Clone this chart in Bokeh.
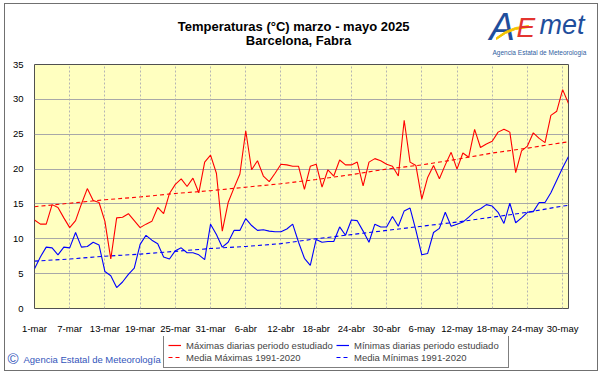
import pandas as pd
from bokeh.plotting import figure
from bokeh.layouts import column
from bokeh.models import (Range1d, FixedTicker, Label, Legend, LegendItem,
                          PolyAnnotation)
from bokeh.embed import file_html
from bokeh.resources import INLINE

# ---------------- data ----------------
dates = pd.date_range("2025-03-01", "2025-05-31")
day_idx = list(range(len(dates)))

tmax = [12.7, 12.1, 12.1, 14.9, 14.5, 13.0, 11.6, 12.6, 15.0, 17.2,
        15.5, 15.2, 12.5, 7.1, 13.0, 13.1, 13.6, 12.6, 11.6, 12.1,
        12.5, 14.5, 13.6, 16.5, 17.8, 18.6, 17.5, 18.7, 16.6, 21.0,
        22.0, 19.4, 11.1, 15.2, 17.3, 19.3, 25.5, 19.9, 21.2, 19.0,
        18.2, 19.4, 20.7, 20.6, 20.4, 20.4, 17.1, 20.4, 20.7, 17.4,
        19.9, 19.0, 21.3, 20.6, 20.6, 21.0, 17.6, 21.0, 21.5, 21.2,
        20.7, 20.4, 19.0, 27.0, 21.0, 20.5, 15.7, 18.8, 20.5, 18.6,
        20.6, 22.4, 20.0, 22.3, 21.7, 25.7, 23.1, 23.6, 24.0, 25.3,
        25.7, 25.3, 19.5, 22.6, 23.3, 25.2, 24.4, 23.8, 27.7, 28.3,
        31.4, 29.4]

tmin = [5.7, 7.4, 8.8, 8.7, 7.7, 8.8, 8.7, 10.9, 8.8, 8.9,
        9.5, 9.1, 5.3, 4.7, 3.0, 3.8, 4.9, 5.8, 9.2, 10.5,
        9.8, 9.3, 7.4, 7.1, 8.3, 8.7, 8.0, 8.0, 7.7, 7.0,
        12.1, 10.6, 8.8, 9.5, 11.2, 11.2, 12.9, 11.9, 11.2, 11.3,
        11.1, 11.0, 11.0, 11.4, 12.1, 9.5, 7.2, 6.2, 9.9, 9.5,
        9.6, 9.6, 11.7, 10.5, 12.7, 12.6, 11.1, 9.5, 12.1, 11.7,
        11.7, 13.2, 11.8, 14.0, 14.4, 11.2, 7.7, 7.9, 10.9, 11.5,
        13.8, 11.8, 12.1, 12.4, 13.1, 13.9, 14.3, 14.9, 14.7, 13.8,
        12.2, 15.1, 12.3, 13.0, 13.8, 13.9, 15.2, 15.2, 16.6, 18.4,
        20.2, 21.8]

# 1991-2020 climatological means, read at the tick dates (+ 31-may)
mean_idx = [0, 6, 12, 18, 24, 30, 36, 42, 48, 54, 60, 66, 72, 78, 84, 90, 91]
mean_max = [14.6, 15.1, 15.6, 16.0, 16.5, 16.9, 17.4, 17.9, 18.5, 19.2,
            20.0, 20.6, 21.4, 22.3, 23.0, 23.8, 23.9]
mean_min = [6.8, 7.1, 7.5, 7.8, 8.2, 8.6, 8.9, 9.3, 10.0, 10.6,
            11.2, 11.8, 12.4, 13.1, 13.8, 14.7, 14.8]

tick_idx = [0, 6, 12, 18, 24, 30, 36, 42, 48, 54, 60, 66, 72, 78, 84, 90]
tick_labels = ["1-mar", "7-mar", "13-mar", "19-mar", "25-mar", "31-mar",
               "6-abr", "12-abr", "18-abr", "24-abr", "30-abr", "6-may",
               "12-may", "18-may", "24-may", "30-may"]
y_ticks = [0, 5, 10, 15, 20, 25, 30, 35]

title1 = "Temperaturas (°C) marzo  - mayo 2025"
title2 = "Barcelona, Fabra"
legend_labels = ["Máximas diarias periodo estudiado",
                 "Mínimas diarias periodo estudiado",
                 "Media Máximas 1991-2020",
                 "Media Mínimas 1991-2020"]
credit = "Agencia Estatal de Meteorología"

SANS = "Liberation Sans"
W = 592
RED, BLUE = "#ff0000", "#0000ff"


def blank(height):
    f = figure(width=W, height=height, output_backend="svg", toolbar_location=None,
               x_range=Range1d(0, W), y_range=Range1d(0, height),
               x_axis_type=None, y_axis_type=None,
               min_border=0, outline_line_color=None, frame_align=False,
               background_fill_color="white", border_fill_color="white")
    f.grid.visible = False
    return f


# ---------------- header (titles + logo) ----------------
head = blank(56)
head.add_layout(Label(x=290, y=27, text=title1, text_align="center",
                      text_font=SANS, text_font_size="13px",
                      text_font_style="bold", text_color="#000000"))
head.add_layout(Label(x=293, y=13, text=title2, text_align="center",
                      text_font=SANS, text_font_size="13px",
                      text_font_style="bold", text_color="#000000"))
head.add_layout(Label(x=484, y=13, text="A", text_font=SANS, text_font_size="38px",
                      text_font_style="italic", text_color="#1f4e9c"))
head.add_layout(PolyAnnotation(xs=[491, 500, 510, 523, 523, 510, 500, 491],
                               ys=[23, 29, 33, 35, 33, 31, 27, 21],
                               fill_color="#f5c400", fill_alpha=1,
                               line_color="#f5c400", line_alpha=1))
head.add_layout(Label(x=511, y=18, text="E", text_font=SANS, text_font_size="28px",
                      text_font_style="italic", text_color="#e3342f"))
head.add_layout(Label(x=534, y=21, text="met", text_font=SANS, text_font_size="27px",
                      text_font_style="italic", text_color="#1f4e9c"))
head.add_layout(Label(x=487, y=5, text=credit, text_font=SANS, text_font_size="6.5px",
                      text_color="#3060a0"))

# ---------------- main chart ----------------
p = figure(width=W, height=276, output_backend="svg", toolbar_location=None,
           x_range=Range1d(0, 91), y_range=Range1d(0, 35), frame_align=False,
           min_border_left=29, min_border_right=29,
           min_border_top=4, min_border_bottom=26,
           background_fill_color="#ffffc0", border_fill_color="white",
           outline_line_color="#505050", outline_line_width=1)

p.ygrid.grid_line_color = "#a8a8a8"
p.xgrid.grid_line_color = "#b4b4b4"
p.xgrid.grid_line_dash = "2 2"

p.xaxis.ticker = FixedTicker(ticks=tick_idx)
p.xaxis.major_label_overrides = {i: t for i, t in zip(tick_idx, tick_labels)}
p.yaxis.ticker = FixedTicker(ticks=y_ticks)
for ax in (p.xaxis, p.yaxis):
    ax.axis_line_color = None
    ax.major_tick_line_color = None
    ax.minor_tick_line_color = None
    ax.major_label_text_font = SANS
    ax.major_label_text_font_size = "9.5px"
    ax.major_label_text_color = "#000000"
p.xaxis.major_label_standoff = 8
p.yaxis.major_label_standoff = 5

p.line(mean_idx, mean_max, line_color=RED, line_width=1.1, line_dash="4 3")
p.line(mean_idx, mean_min, line_color=BLUE, line_width=1.1, line_dash="4 3")
p.line(day_idx, tmax, line_color=RED, line_width=1.1)
p.line(day_idx, tmin, line_color=BLUE, line_width=1.1)

# ---------------- footer (legend + credit) ----------------
foot = blank(34)
lr_max = foot.line([-20, -10], [-20, -10], line_color=RED, line_width=1.2)
lr_min = foot.line([-20, -10], [-20, -10], line_color=BLUE, line_width=1.2)
lr_mmax = foot.line([-20, -10], [-20, -10], line_color=RED, line_width=1.2, line_dash="4 3")
lr_mmin = foot.line([-20, -10], [-20, -10], line_color=BLUE, line_width=1.2, line_dash="4 3")
legend = Legend(items=[LegendItem(label=legend_labels[0], renderers=[lr_max]),
                       LegendItem(label=legend_labels[1], renderers=[lr_min]),
                       LegendItem(label=legend_labels[2], renderers=[lr_mmax]),
                       LegendItem(label=legend_labels[3], renderers=[lr_mmin])],
                location=(158, 2), orientation="horizontal", ncols=2,
                border_line_color="#000000", border_line_width=1,
                background_fill_color="white", background_fill_alpha=1,
                label_text_font=SANS, label_text_font_size="9.5px",
                label_height=12, label_width=150, label_standoff=5,
                glyph_width=13, glyph_height=10, spacing=0, padding=4, margin=0)
foot.add_layout(legend)
foot.add_layout(Label(x=2, y=4, text="©", text_font=SANS, text_font_size="15px",
                      text_color="#3355bb"))
foot.add_layout(Label(x=18, y=6, text=credit, text_font=SANS, text_font_size="9.5px",
                      text_color="#3355bb"))

layout = column(head, p, foot, spacing=0, margin=(3, 0, 0, 4),
                styles={"border": "1px solid #707070"})
open("out.html", "w").write(file_html(layout, INLINE))
